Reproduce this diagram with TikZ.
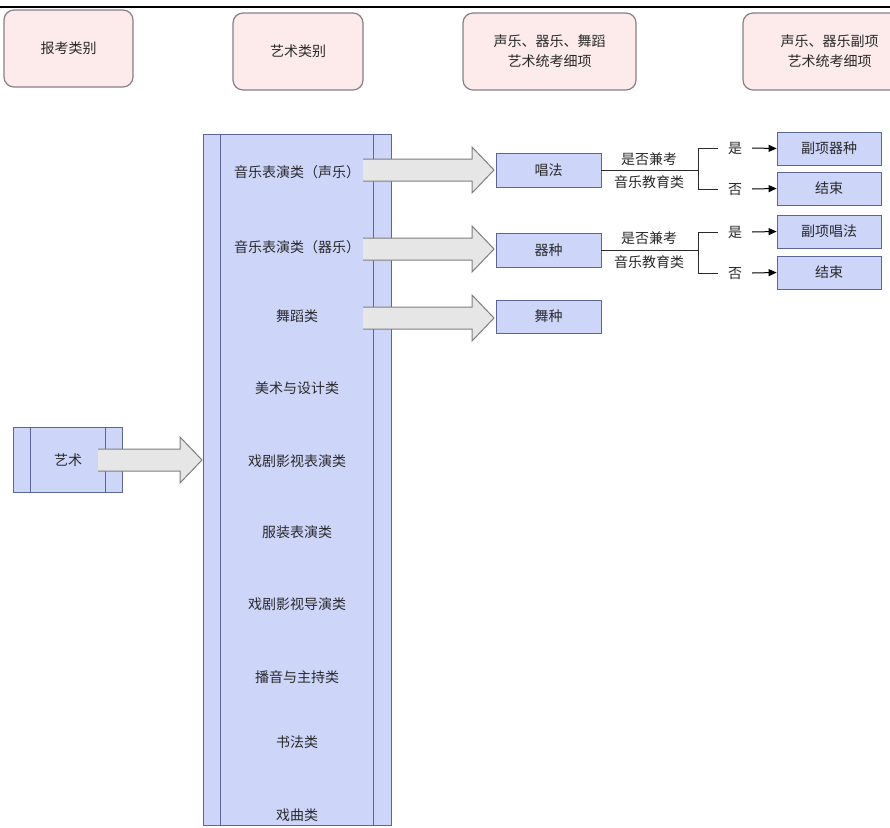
\documentclass[tikz,border=0pt]{standalone}
\usepackage{fontspec}
\setmainfont{Noto Sans CJK SC}
\usetikzlibrary{arrows.meta}
\definecolor{hdrfill}{HTML}{FDEAEB}
\definecolor{hdrline}{HTML}{878088}
\definecolor{bluefill}{HTML}{CDD5F9}
\definecolor{blueline}{HTML}{5B6696}
\definecolor{arrfill}{HTML}{E6E6E6}
\definecolor{arrline}{HTML}{7F7F7F}
\definecolor{txt}{HTML}{2A2A2A}
\newcommand{\barrow}[4]{%
  \fill[arrfill] (#1,#2-11) -- (#3,#2-11) -- (#3,#2-23) -- (#4,#2) -- (#3,#2+23) -- (#3,#2+11) -- (#1,#2+11) -- cycle;
  \draw[arrline, line width=1pt, line join=miter] (#1,#2-11) -- (#3,#2-11) -- (#3,#2-23) -- (#4,#2) -- (#3,#2+23) -- (#3,#2+11) -- (#1,#2+11);
}
\begin{document}
\begin{tikzpicture}[x=1pt,y=-1pt,
  every node/.style={text=txt, font=\fontsize{14}{20}\selectfont},
  hdr/.style={draw=hdrline, fill=hdrfill, rounded corners=10pt, line width=1.2pt, minimum height=77pt, align=center, inner sep=0pt},
  bbox/.style={draw=blueline, fill=bluefill, line width=0.8pt, minimum height=34pt, inner sep=0pt},
  lbl/.style={inner sep=0pt},
  thin/.style={draw=txt, line width=1pt},
  smallarrow/.style={draw=black, line width=1pt, -{Triangle[length=8pt,width=7pt]}}
]
\useasboundingbox (0,0) rectangle (890,827);
\clip (0,0) rectangle (890,827);
\fill[white] (0,0) rectangle (890,827);
\draw[black, line width=1.3pt] (0,7) -- (890,7);

% header boxes
\node[hdr, minimum width=129pt] (h1) at (68.5,48.5) {报考类别};
\node[hdr, minimum width=130pt] (h2) at (298,51.5) {艺术类别};
\node[hdr, minimum width=173pt] (h3) at (549.5,51.5) {声乐、器乐、舞蹈\\艺术统考细项};
\node[hdr, minimum width=173pt] (h4) at (829.5,51.5) {声乐、器乐副项\\艺术统考细项};

% main column
\node[bbox, minimum width=188pt, minimum height=691pt] (col) at (297,479.5) {};
\draw[blueline, line width=0.8pt] ([xshift=18pt]col.north west) -- ([xshift=18pt]col.south west);
\draw[blueline, line width=0.8pt] ([xshift=-18pt]col.north east) -- ([xshift=-18pt]col.south east);
\node[lbl] (c1) at (297,172) {音乐表演类（声乐）};
\node[lbl] (c2) at (297,247) {音乐表演类（器乐）};
\node[lbl] (c3) at (297,316) {舞蹈类};
\node[lbl] (c4) at (297,388) {美术与设计类};
\node[lbl] (c5) at (297,461) {戏剧影视表演类};
\node[lbl] (c6) at (297,532) {服装表演类};
\node[lbl] (c7) at (297,604) {戏剧影视导演类};
\node[lbl] (c8) at (297,677) {播音与主持类};
\node[lbl] (c9) at (297,742) {书法类};
\node[lbl] (c10) at (297,815) {戏曲类};

% left box
\node[bbox, minimum width=109pt, minimum height=65pt] (yishu) at (67.5,459.5) {};
\draw[blueline, line width=0.8pt] ([xshift=18pt]yishu.north west) -- ([xshift=18pt]yishu.south west);
\draw[blueline, line width=0.8pt] ([xshift=-17pt]yishu.north east) -- ([xshift=-17pt]yishu.south east);
\node[lbl] at (68,460) {艺术};

% second level boxes
\node[bbox, minimum width=105pt] (chang) at (548.5,170) {唱法};
\node[bbox, minimum width=105pt] (qi) at (548.5,250) {器种};
\node[bbox, minimum width=105pt, minimum height=33pt] (wu) at (548.5,316.5) {舞种};

% block arrows
\barrow{98}{460}{180}{202}
\barrow{363}{170}{472}{494}
\barrow{363}{249}{472}{494}
\barrow{363}{318}{472}{494}

% third level boxes
\node[bbox, minimum width=104pt, minimum height=33pt] (fq1) at (829,148.5) {副项器种};
\node[bbox, minimum width=104pt, minimum height=33pt] (end1) at (829,188.5) {结束};
\node[bbox, minimum width=104pt, minimum height=33pt] (fq2) at (829,231.5) {副项唱法};
\node[bbox, minimum width=104pt, minimum height=33pt] (end2) at (829,272.5) {结束};

% bracket 1
\coordinate (b1) at (698,170);
\coordinate (b1t) at (718,148);
\coordinate (b1b) at (718,189);
\draw[thin] (chang.east) -- (b1);
\draw[thin] (b1t) -- (698,148) -- (698,189) -- (b1b);
\node[lbl] at (649,159) {是否兼考};
\node[lbl] at (649,182) {音乐教育类};
\node[lbl] (s1) at (735,148) {是};
\node[lbl] (n1) at (735,190) {否};
\draw[smallarrow] (752,148) -- (fq1.west);
\draw[smallarrow] (752,189) -- (end1.west);

% bracket 2
\coordinate (b2) at (698,250);
\coordinate (b2t) at (718,232);
\coordinate (b2b) at (718,273);
\draw[thin] (qi.east) -- (b2);
\draw[thin] (b2t) -- (698,232) -- (698,273) -- (b2b);
\node[lbl] at (649,238) {是否兼考};
\node[lbl] at (649,262) {音乐教育类};
\node[lbl] (s2) at (735,232) {是};
\node[lbl] (n2) at (735,274) {否};
\draw[smallarrow] (752,232) -- (fq2.west);
\draw[smallarrow] (752,273) -- (end2.west);
\end{tikzpicture}
\end{document}
